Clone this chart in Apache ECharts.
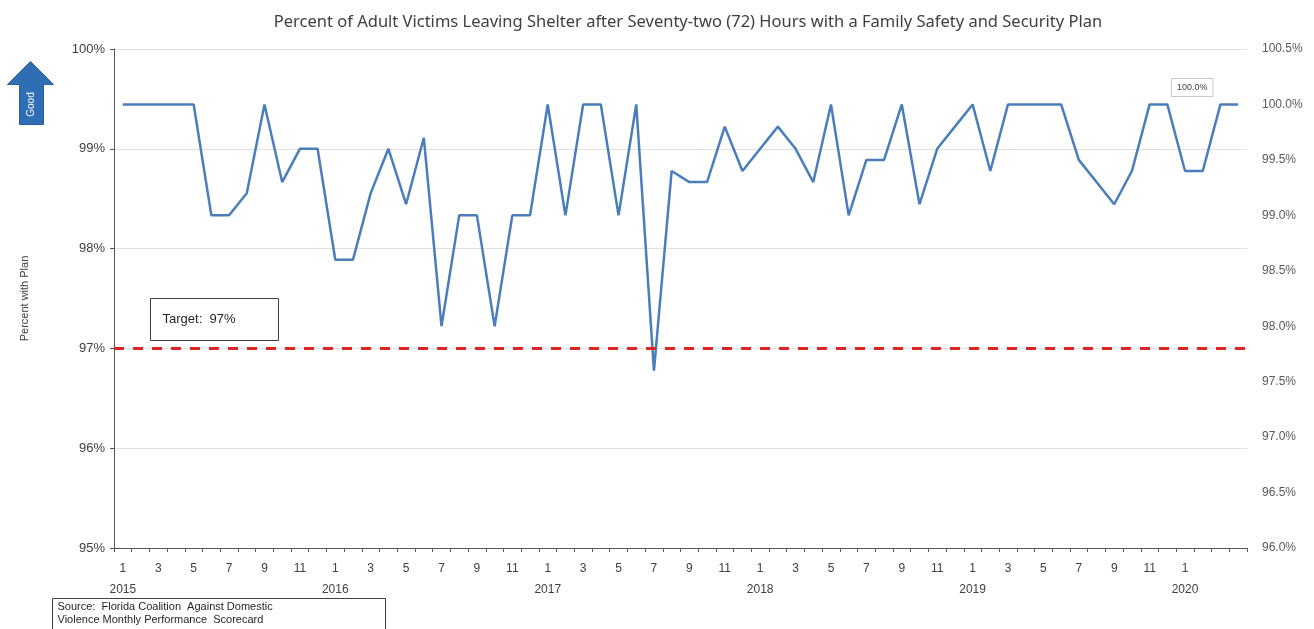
<!DOCTYPE html>
<html lang="en">
<head>
    <meta charset="UTF-8">
    <title>Adult Victims Safety Plan</title>
    <script type="text/javascript" src="https://cdn.jsdelivr.net/npm/echarts@6/dist/echarts.min.js"></script>
    <style>
        html, body { margin: 0; padding: 0; background: #fff; }
    </style>
</head>
<body>
<div id="main" style="width: 1314px;height: 629px;"></div>

<script type="text/javascript">

    // months Jan 2015 .. Apr 2020
    var categories = [
        '2015-1','2015-2','2015-3','2015-4','2015-5','2015-6','2015-7','2015-8','2015-9','2015-10','2015-11','2015-12',
        '2016-1','2016-2','2016-3','2016-4','2016-5','2016-6','2016-7','2016-8','2016-9','2016-10','2016-11','2016-12',
        '2017-1','2017-2','2017-3','2017-4','2017-5','2017-6','2017-7','2017-8','2017-9','2017-10','2017-11','2017-12',
        '2018-1','2018-2','2018-3','2018-4','2018-5','2018-6','2018-7','2018-8','2018-9','2018-10','2018-11','2018-12',
        '2019-1','2019-2','2019-3','2019-4','2019-5','2019-6','2019-7','2019-8','2019-9','2019-10','2019-11','2019-12',
        '2020-1','2020-2','2020-3','2020-4'
    ];

    // percent with plan (right axis)
    var pctWithPlan = [
        100.0, 100.0, 100.0, 100.0, 100.0, 99.0, 99.0, 99.2, 100.0, 99.3, 99.6, 99.6,
        98.6, 98.6, 99.2, 99.6, 99.1, 99.7, 98.0, 99.0, 99.0, 98.0, 99.0, 99.0,
        100.0, 99.0, 100.0, 100.0, 99.0, 100.0, 97.6, 99.4, 99.3, 99.3, 99.8, 99.4,
        99.6, 99.8, 99.6, 99.3, 100.0, 99.0, 99.5, 99.5, 100.0, 99.1, 99.6, 99.8,
        100.0, 99.4, 100.0, 100.0, 100.0, 100.0, 99.5, 99.3, 99.1, 99.4, 100.0, 100.0,
        99.4, 99.4, 100.0, 100.0
    ];

    var target = 97;

    var leftTicks = { min: 95, max: 100, interval: 1 };
    var rightTicks = { min: 96, max: 100.5, interval: 0.5 };

    var chart = echarts.init(document.getElementById('main'));

    var lastIdx = pctWithPlan.length - 1;

    var option = {
        backgroundColor: '#fff',
        textStyle: { fontFamily: 'Liberation Sans, Arial, sans-serif' },
        title: {
            text: 'Percent of Adult Victims Leaving Shelter after Seventy-two (72) Hours with a Family Safety and Security Plan',
            left: 683,
            top: 9,
            textAlign: 'center',
            textStyle: {
                fontSize: 16.5,
                fontWeight: 'normal',
                color: '#404040',
                fontFamily: 'Noto Sans, sans-serif'
            }
        },
        grid: {
            left: 114,
            right: 67,
            top: 49,
            bottom: 81,
            containLabel: false
        },
        xAxis: {
            type: 'category',
            data: categories,
            boundaryGap: true,
            axisLine: { lineStyle: { color: '#595959', width: 1 } },
            axisTick: {
                show: true,
                interval: 0,
                length: 4,
                lineStyle: { color: '#595959' }
            },
            axisLabel: {
                interval: 1,
                color: '#404040',
                fontSize: 12,
                lineHeight: 21,
                margin: 10,
                formatter: function (val, idx) {
                    if (idx > 60) {
                        return '';
                    }
                    var parts = val.split('-');
                    if (parts[1] === '1') {
                        return parts[1] + '\n' + parts[0];
                    }
                    return parts[1];
                }
            },
            splitLine: { show: false }
        },
        yAxis: [
            {
                type: 'value',
                min: leftTicks.min,
                max: leftTicks.max,
                interval: leftTicks.interval,
                position: 'left',
                name: 'Percent with Plan',
                nameLocation: 'middle',
                nameGap: 84,
                nameRotate: 90,
                nameTextStyle: { fontSize: 11, color: '#404040' },
                axisLine: { show: true, lineStyle: { color: '#595959' } },
                axisTick: { show: true, length: 4, lineStyle: { color: '#595959' } },
                axisLabel: {
                    color: '#404040',
                    fontSize: 13,
                    margin: 9,
                    formatter: function (v) { return v + '%'; }
                },
                splitLine: { show: true, lineStyle: { color: '#e0e0e0', width: 1 } }
            },
            {
                type: 'value',
                min: rightTicks.min,
                max: rightTicks.max,
                interval: rightTicks.interval,
                position: 'right',
                axisLine: { show: false },
                axisTick: { show: false },
                axisLabel: {
                    color: '#595959',
                    fontSize: 12,
                    margin: 15,
                    formatter: function (v) { return v.toFixed(1) + '%'; }
                },
                splitLine: { show: false }
            }
        ],
        series: [
            {
                name: 'Percent with Plan',
                type: 'line',
                yAxisIndex: 1,
                data: pctWithPlan,
                symbol: 'none',
                lineStyle: { color: '#4a7ebb', width: 2.5 },
                itemStyle: { color: '#4a7ebb' },
                markPoint: {
                    silent: true,
                    symbol: 'circle',
                    symbolSize: 1,
                    itemStyle: { color: 'transparent' },
                    label: {
                        show: true,
                        position: 'top',
                        offset: [-46, -3],
                        formatter: function (p) { return Number(p.value).toFixed(1) + '%'; },
                        fontSize: 9,
                        color: '#404040',
                        borderColor: '#c8c8c8',
                        borderWidth: 1,
                        padding: [4, 5],
                        backgroundColor: '#fff'
                    },
                    data: [
                        { coord: [categories[lastIdx], pctWithPlan[lastIdx]], value: pctWithPlan[lastIdx] }
                    ]
                },
                z: 3
            },
            {
                name: 'Target',
                type: 'line',
                yAxisIndex: 0,
                data: [],
                markLine: {
                    silent: true,
                    symbol: ['none', 'none'],
                    label: { show: false },
                    lineStyle: { color: '#e02424', width: 3, type: [10, 9] },
                    data: [{ yAxis: target }]
                },
                z: 2
            }
        ],
        graphic: [
            {
                type: 'group',
                left: 7,
                top: 61,
                children: [
                    {
                        type: 'polygon',
                        shape: {
                            points: [[23, 0], [46, 23], [36, 23], [36, 63], [12, 63], [12, 23], [0, 23]]
                        },
                        style: { fill: '#2f6db5', stroke: '#2a5f9e', lineWidth: 1 }
                    },
                    {
                        type: 'text',
                        x: 24,
                        y: 43,
                        rotation: Math.PI / 2,
                        style: {
                            text: 'Good',
                            fill: '#fff',
                            fontSize: 10,
                            align: 'center',
                            verticalAlign: 'middle'
                        }
                    }
                ]
            },
            {
                type: 'group',
                left: 150,
                top: 298,
                children: [
                    {
                        type: 'rect',
                        shape: { x: 0, y: 0, width: 128, height: 42 },
                        style: { fill: '#fff', stroke: '#404040', lineWidth: 1 }
                    },
                    {
                        type: 'text',
                        x: 12,
                        y: 21,
                        style: {
                            text: 'Target:  97%',
                            fill: '#262626',
                            fontSize: 13,
                            verticalAlign: 'middle'
                        }
                    }
                ]
            },
            {
                type: 'group',
                left: 52,
                top: 598,
                children: [
                    {
                        type: 'rect',
                        shape: { x: 0, y: 0, width: 333, height: 34 },
                        style: { fill: '#fff', stroke: '#404040', lineWidth: 1 }
                    },
                    {
                        type: 'text',
                        x: 5,
                        y: 2,
                        style: {
                            text: 'Source:  Florida Coalition  Against Domestic\nViolence Monthly Performance  Scorecard',
                            fill: '#262626',
                            fontSize: 11,
                            lineHeight: 13
                        }
                    }
                ]
            }
        ]
    };

    chart.setOption(option);
</script>
</body>
</html>
